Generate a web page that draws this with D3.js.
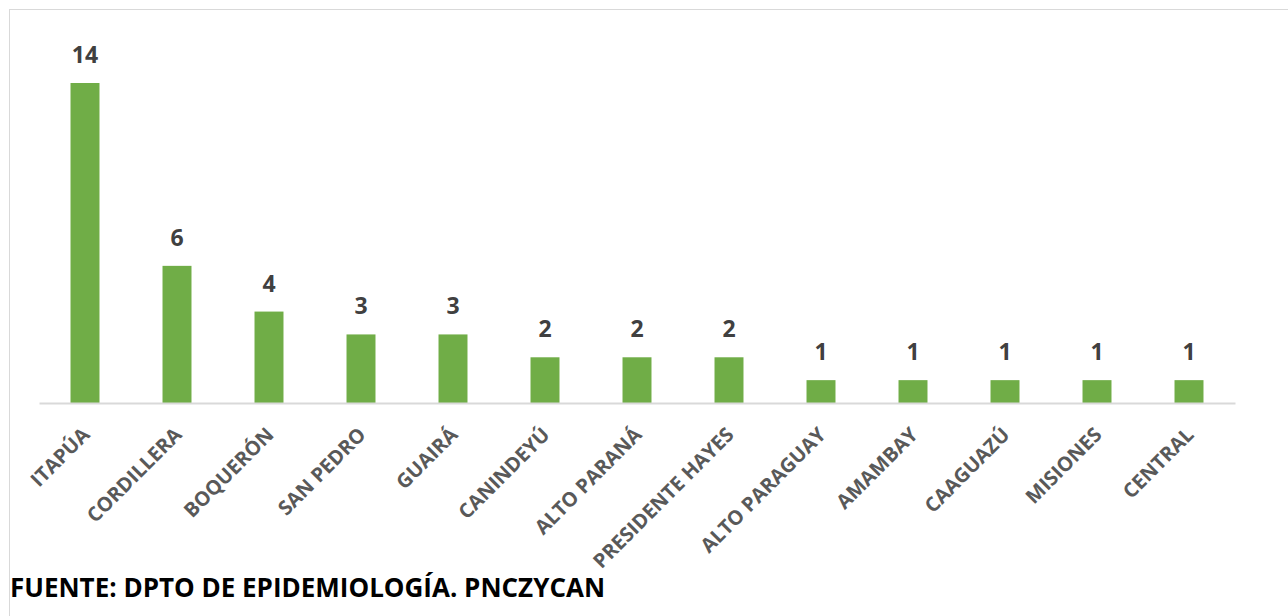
<!DOCTYPE html>
<html>
<head>
<meta charset="utf-8">
<script src="https://cdn.jsdelivr.net/npm/d3@7"></script>
<style>
  body { margin: 0; background: #fff; }
  svg { display: block; }
</style>
</head>
<body>
<div id="chart"></div>
<script>
// data
var departamentos = ["ITAPÚA", "CORDILLERA", "BOQUERÓN", "SAN PEDRO", "GUAIRÁ", "CANINDEYÚ",
	"ALTO PARANÁ", "PRESIDENTE HAYES", "ALTO PARAGUAY", "AMAMBAY", "CAAGUAZÚ", "MISIONES", "CENTRAL"];
var casos = [14, 6, 4, 3, 3, 2, 2, 2, 1, 1, 1, 1, 1];
var fuente = "FUENTE: DPTO DE EPIDEMIOLOGÍA. PNCZYCAN";

var W = 1288, H = 616;
var margin = { top: 83, right: 53, bottom: 213, left: 39 },
	width = W - margin.left - margin.right,
	height = H - margin.top - margin.bottom;

var svg = d3.select("#chart")
	.append("svg")
	.attr("width", W)
	.attr("height", H);

// outer chart frame
svg.append("rect")
	.attr("x", 9.5)
	.attr("y", 9.5)
	.attr("width", W + 10)
	.attr("height", H + 10)
	.attr("fill", "none")
	.attr("stroke", "#d9d9d9")
	.attr("stroke-width", 1);

var g = svg.append("g")
	.attr("transform", "translate(" + margin.left + "," + margin.top + ")");

var x = d3.scaleBand()
	.domain(departamentos)
	.range([0, width])
	.paddingInner(0.685)
	.paddingOuter(0.3425);

var y = d3.scaleLinear()
	.domain([0, 14])
	.range([height, 0]);

var data = departamentos.map(function (d, i) { return { name: d, value: casos[i] }; });

// bars
g.selectAll("rect.bar")
	.data(data)
	.enter()
	.append("rect")
	.attr("class", "bar")
	.attr("x", function (d) { return x(d.name); })
	.attr("y", function (d) { return y(d.value); })
	.attr("width", x.bandwidth())
	.attr("height", function (d) { return height - y(d.value); })
	.attr("fill", "#70ad47");

// axis
var xAxis = g.append("g")
	.attr("transform", "translate(0," + height + ")")
	.call(d3.axisBottom(x).tickSize(0).tickPadding(0));
xAxis.select(".domain")
	.attr("stroke", "#d9d9d9")
	.attr("stroke-width", 2);
xAxis.selectAll("text")
	.style("font-family", "'Open Sans', sans-serif")
	.style("font-weight", "bold")
	.style("font-size", "20px")
	.attr("fill", "#595959")
	.attr("text-anchor", "end")
	.attr("dy", 0)
	.attr("transform", "translate(6,33) rotate(-45)");

// value labels
g.selectAll("text.val")
	.data(data)
	.enter()
	.append("text")
	.attr("class", "val")
	.attr("x", function (d) { return x(d.name) + x.bandwidth() / 2; })
	.attr("y", function (d) { return y(d.value) - 20; })
	.attr("text-anchor", "middle")
	.style("font-family", "'Open Sans', sans-serif")
	.style("font-weight", "bold")
	.style("font-size", "23px")
	.attr("fill", "#404040")
	.text(function (d) { return d.value; });

// source note
svg.append("text")
	.attr("x", 10)
	.attr("y", 597)
	.style("font-family", "'Open Sans', sans-serif")
	.style("font-weight", "bold")
	.style("font-size", "26px")
	.attr("fill", "#000")
	.text(fuente);
</script>
</body>
</html>
